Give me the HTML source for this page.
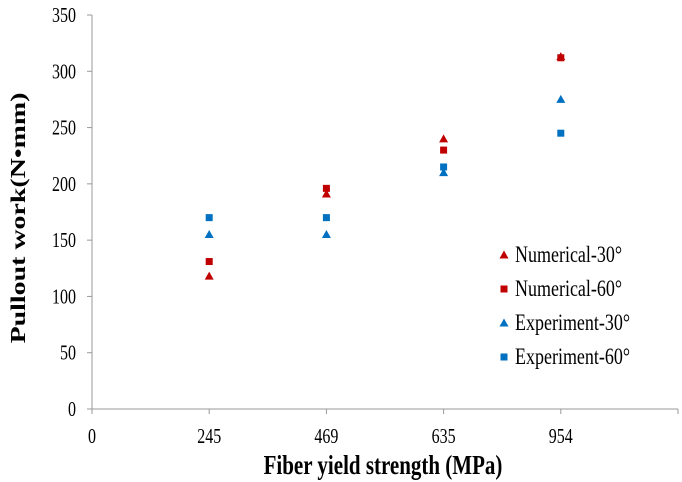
<!DOCTYPE html>
<html><head><meta charset="utf-8"><style>
body{margin:0;background:#fff}
svg{display:block;font-family:"Liberation Serif",serif}
</style></head><body>
<svg id="c" width="682" height="482">
</svg>
<script>
const categories=["245","469","635","954"];
const num30=[118,191,240,313];
const num60=[131,196,230,312];
const exp30=[155,155,210,275];
const exp60=[170,170,215,245];
const yTicks=[0,50,100,150,200,250,300,350];
const seriesNames=["Numerical-30°","Numerical-60°","Experiment-30°","Experiment-60°"];
const NS="http://www.w3.org/2000/svg";
const svg=document.getElementById('c');
const X0=92,X1=678,Y0=409,Y1=15;
function xs(i){return X0+(i+1)*(X1-X0)/5;}
function ys(v){return Y0-(v/350)*(Y0-Y1);}
function mk(t,a){const e=document.createElementNS(NS,t);for(const k in a)e.setAttribute(k,a[k]);svg.appendChild(e);return e;}
function txt(x,y,s,anchor,size,bold){
  const e=mk('text',{x:0,y:0,'text-anchor':anchor,'font-size':size,transform:`translate(${x},${y}) scale(1,1.3)`});
  if(bold)e.setAttribute('font-weight','bold');
  e.textContent=s;return e;
}
let e;
e=mk('line',{x1:X0,y1:Y1,x2:X0,y2:Y0,stroke:'#999','stroke-width':1});


e=mk('line',{x1:X0,y1:Y0,x2:X1,y2:Y0,stroke:'#999','stroke-width':1});


yTicks.forEach(v=>{
  e=mk('line',{x1:X0-5,y1:ys(v),x2:X0,y2:ys(v),stroke:'#999'});
  
  
  e=txt(76,ys(v)+7,String(v),'end',16,false);
  
  
});
for(let i=0;i<=5;i++){
  const x=X0+i*(X1-X0)/5;
  e=mk('line',{x1:x,y1:Y0,x2:x,y2:Y0+5,stroke:'#999'});
  
  
}
e=txt(X0,443,'0','middle',16,false);


categories.forEach((c,i)=>{
  e=txt(xs(i),443,c,'middle',16,false);
  
  
});
e=txt(383,474,'Fiber yield strength (MPa)','middle',21,true);


e=mk('text',{x:0,y:0,'text-anchor':'middle','font-size':21,'font-weight':'bold',transform:'translate(25,218) rotate(-90) scale(1.33,1)'});e.textContent='Pullout work(N•mm)';


const RED='#c00000',BLUE='#0070c0';
function tri(x,y,col){return mk('polygon',{points:`${x},${y-4.5} ${x+4.5},${y+3.5} ${x-4.5},${y+3.5}`,fill:col});}
function sq(x,y,col){return mk('rect',{x:x-3.5,y:y-3.5,width:7,height:7,fill:col});}
const series=[[exp60,sq,BLUE],[exp30,tri,BLUE],[num60,sq,RED],[num30,tri,RED]];
series.forEach(([arr,f,col])=>{
  arr.forEach((v,i)=>{
    e=f(xs(i),ys(v),col);
    
    
  });
});
const legMarkers=[[tri,RED],[sq,RED],[tri,BLUE],[sq,BLUE]];
seriesNames.forEach((n,k)=>{
  const y=255+k*34;
  e=legMarkers[k][0](504,y,legMarkers[k][1]);
  
  
  e=txt(515,y+7,n,'start',18,false);
  
  
});
</script>
</body></html>
